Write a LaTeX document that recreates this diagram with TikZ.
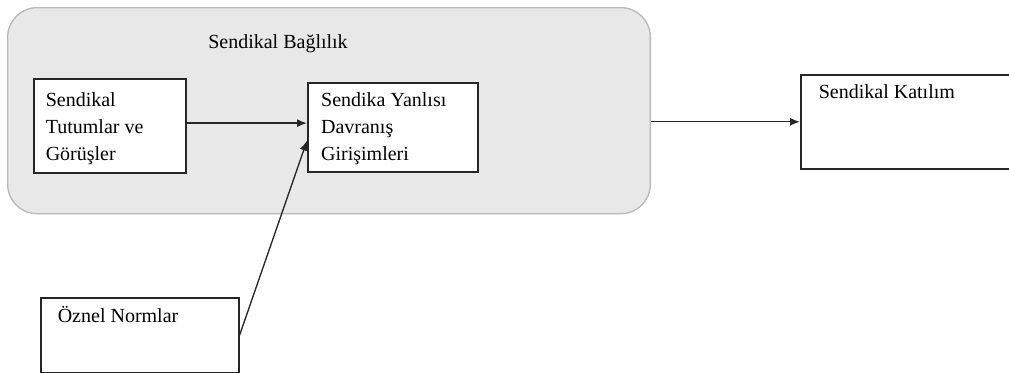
\documentclass[tikz,border=0pt]{standalone}
\usepackage{fontspec}
\setmainfont{Liberation Serif}
\usetikzlibrary{arrows.meta}
% text block of a box: width, height, top gap, text
\newcommand{\boxtext}[4]{\parbox[c][#2][t]{#1}{\raggedright\vspace*{#3}\strut #4}}
\begin{document}
\begin{tikzpicture}[x=0.75pt,y=-0.75pt]
				\tikzstyle{Box} = [rectangle, draw=black!85, fill=white, line width=1.2pt, anchor=north west, inner xsep=9pt, inner ysep=0pt, font=\fontsize{15}{20}\selectfont]
				\tikzstyle{Group} = [rectangle, rounded corners=22pt, draw=gray!55, fill=gray!18, line width=1pt, anchor=north west, minimum width=482pt, minimum height=154.5pt]
				\tikzstyle{Arrow} = [-{Latex[length=7.5pt,width=6pt]}, line width=1pt, draw=black!85]
				\useasboundingbox (0,0) rectangle (1009,372);
				\node (bond) at (7,7) [Group] {};
				\node (title) at (278,44) [font=\fontsize{15}{20}\selectfont] {Sendikal Bağlılık};
				\node (attitude) at (33,78) [Box] {\boxtext{96pt}{70.5pt}{7pt}{Sendikal Tutumlar ve Görüşler}};
				\node (intent) at (307,82) [Box, inner xsep=10pt] {\boxtext{107.5pt}{66.75pt}{4pt}{Sendika Yanlısı Davranış Girişimleri}};
				\node (join) at (800,74) [Box, inner xsep=13.5pt] {\boxtext{140pt}{70.5pt}{4pt}{Sendikal Katılım}};
				\node (norm) at (40,297) [Box, inner xsep=12.75pt] {\boxtext{123pt}{56pt}{4.75pt}{Öznel Normlar}};
				\draw [Arrow] ([yshift=2pt]attitude.east) to ([yshift=2pt]attitude.east -| intent.west);
				\draw [Arrow] (norm.east) to ([yshift=-10pt]intent.west);
				\draw [Arrow] (join.west -| bond.east) to (join.west);
			\end{tikzpicture}
\end{document}
